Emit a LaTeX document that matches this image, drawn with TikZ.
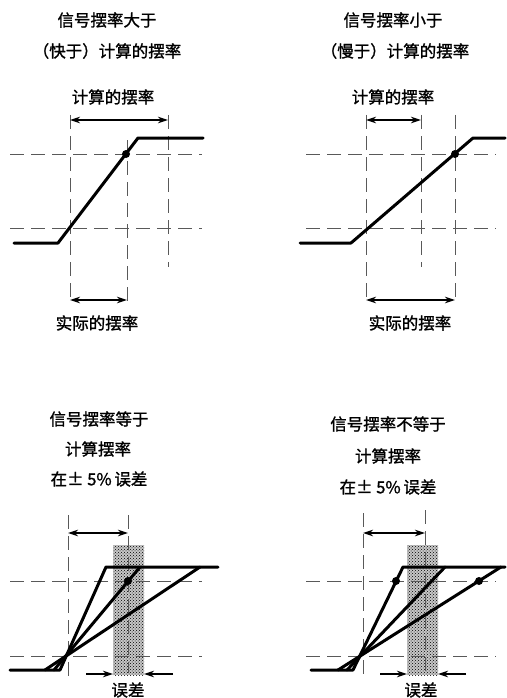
\documentclass[tikz,border=0pt]{standalone}
\usepackage{fontspec}
\setmainfont{Noto Sans CJK SC}[FakeBold=1.2]
\usetikzlibrary{arrows.meta, patterns}
\tikzstyle{label} = [font=\fontsize{16.5}{17}\selectfont, inner sep=0pt]
\tikzstyle{guide} = [black!65, line width=0.8pt, dash pattern=on 14pt off 7pt]
\tikzstyle{wave} = [line width=3pt, line join=round, line cap=round]
\tikzstyle{arrow} = [line width=1.1pt, {Stealth[length=10pt,width=6.5pt]}-{Stealth[length=10pt,width=6.5pt]}]
\tikzstyle{tip} = [line width=1.1pt, -{Stealth[length=10pt,width=6.5pt]}]
\tikzstyle{dot} = [circle, fill=black, inner sep=0pt, minimum size=8pt]
\tikzstyle{band} = [preaction={fill=black!22}, pattern=crosshatch dots, pattern color=black]
\begin{document}
\begin{tikzpicture}[x=1pt, y=-1pt]
    \useasboundingbox (0,0) rectangle (506,698);

    % top left: faster
    \node (tl-title1) [label] at (107,20) {信号摆率大于};
    \node (tl-title2) [label] at (107,51) {（快于）计算的摆率};
    \node (tl-calc) [label] at (113,97) {计算的摆率};
    \node (tl-real) [label] at (97,323) {实际的摆率};

    \draw [guide] (10,154) -- (202,154);
    \draw [guide] (10,228) -- (202,228);
    \draw [guide] (70,115) -- (70,302);
    \draw [guide] (127,140) -- (127,302);
    \draw [guide] (168,115) -- (168,267);

    \draw [wave] (14,243) -- (58,243) -- (138,138) -- (203,138);
    \node (tl-dot) [dot] at (126,154) {};

    \coordinate (tl-calc-l) at (70,120);
    \coordinate (tl-calc-r) at (168,120);
    \coordinate (tl-real-l) at (70,300);
    \coordinate (tl-real-r) at (127,300);
    \draw [arrow] (tl-calc-l) -- (tl-calc-r);
    \draw [arrow] (tl-real-l) -- (tl-real-r);

    % top right: slower
    \node (tr-title1) [label] at (393,20) {信号摆率小于};
    \node (tr-title2) [label] at (395,51) {（慢于）计算的摆率};
    \node (tr-calc) [label] at (393,97) {计算的摆率};
    \node (tr-real) [label] at (410,323) {实际的摆率};

    \draw [guide] (306,154) -- (496,154);
    \draw [guide] (306,228) -- (496,228);
    \draw [guide] (366,115) -- (366,303);
    \draw [guide] (421,115) -- (421,267);
    \draw [guide] (455,115) -- (455,303);

    \draw [wave] (300,243) -- (351,243) -- (473,138) -- (505,138);
    \node (tr-dot) [dot] at (455,154) {};

    \coordinate (tr-calc-l) at (366,120);
    \coordinate (tr-calc-r) at (421,120);
    \coordinate (tr-real-l) at (366,300);
    \coordinate (tr-real-r) at (455,300);
    \draw [arrow] (tr-calc-l) -- (tr-calc-r);
    \draw [arrow] (tr-real-l) -- (tr-real-r);

    % bottom left: equal
    \node (bl-title1) [label] at (99,419) {信号摆率等于};
    \node (bl-title2) [label] at (98,449) {计算摆率};
    \node (bl-title3) [label] at (99,479) {在± 5\%\,误差};
    \node (bl-err) [label] at (128,690) {误差};

    \fill [band] (113,545) rectangle (144,675);
    \draw [guide] (10,581) -- (202,581);
    \draw [guide] (10,656) -- (202,656);
    \draw [guide] (68,515) -- (68,680);
    \draw [guide] (128,515) -- (128,673);

    \draw [wave] (10,670) -- (60,670) -- (106,567) -- (218,567);
    \draw [wave] (54,670) -- (140,567);
    \draw [wave] (45,670) -- (200,567);
    \node (bl-dot) [dot] at (128,581) {};

    \coordinate (bl-top-l) at (68,533);
    \coordinate (bl-top-r) at (128,533);
    \coordinate (bl-err-l) at (86,674);
    \coordinate (bl-band-l) at (113,674);
    \coordinate (bl-err-r) at (173,674);
    \coordinate (bl-band-r) at (144,674);
    \draw [arrow] (bl-top-l) -- (bl-top-r);
    \draw [tip] (bl-err-l) -- (bl-band-l);
    \draw [tip] (bl-err-r) -- (bl-band-r);

    % bottom right: not equal
    \node (br-title1) [label] at (388,424) {信号摆率不等于};
    \node (br-title2) [label] at (388,456) {计算摆率};
    \node (br-title3) [label] at (388,487) {在± 5\%\,误差};
    \node (br-err) [label] at (421,690) {误差};

    \fill [band] (407,545) rectangle (438,675);
    \draw [guide] (306,581) -- (496,581);
    \draw [guide] (306,656) -- (496,656);
    \draw [guide] (363,513) -- (363,680);
    \draw [guide] (425,510) -- (425,675);

    \draw [wave] (311,670) -- (353,670) -- (403,567) -- (505,567);
    \draw [wave] (347,670) -- (445,567);
    \draw [wave] (338,670) -- (501,567);
    \node (br-dot1) [dot] at (396,581) {};
    \node (br-dot2) [dot] at (479,581) {};

    \coordinate (br-top-l) at (363,533);
    \coordinate (br-top-r) at (425,533);
    \coordinate (br-err-l) at (380,674);
    \coordinate (br-band-l) at (407,674);
    \coordinate (br-err-r) at (466,674);
    \coordinate (br-band-r) at (438,674);
    \draw [arrow] (br-top-l) -- (br-top-r);
    \draw [tip] (br-err-l) -- (br-band-l);
    \draw [tip] (br-err-r) -- (br-band-r);
\end{tikzpicture}
\end{document}
